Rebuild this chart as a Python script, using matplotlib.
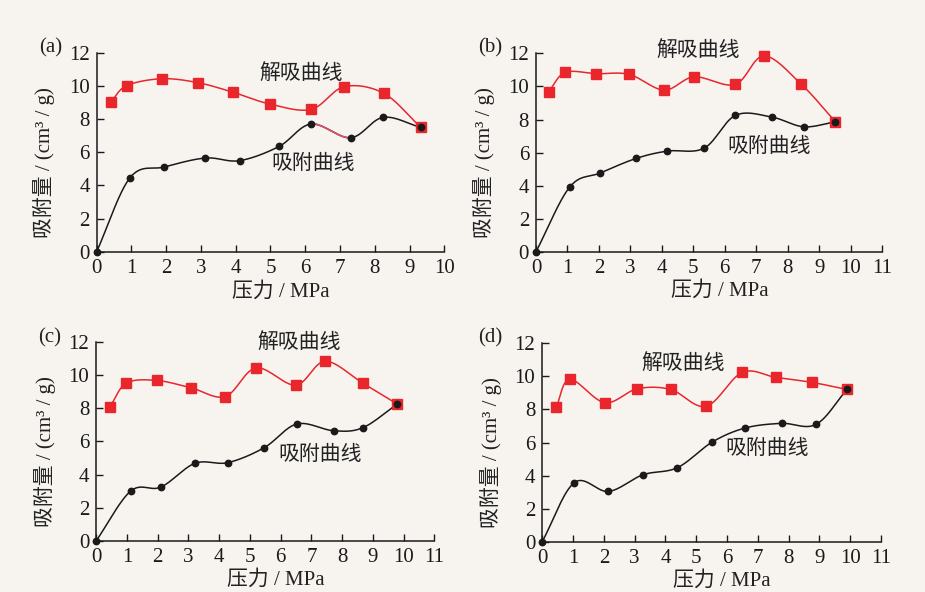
import numpy as np
import matplotlib
matplotlib.use("Agg")
import matplotlib.pyplot as plt

plt.rcParams['font.family'] = ['Liberation Serif', 'Noto Sans CJK SC']
plt.rcParams['axes.unicode_minus'] = False

# ---------------- data ----------------
panel_labels = ["(a)", "(b)", "(c)", "(d)"]
x_max = [10, 11, 11, 11]
y_ticks = [0, 2, 4, 6, 8, 10, 12]

des_label = "解吸曲线"
ads_label = "吸附曲线"
x_label = "压力 / MPa"
y_label = "吸附量 / (cm³ / g)"

# (a)
a_des_x = [0.40, 0.86, 1.88, 2.92, 3.93, 4.99, 6.17, 7.12, 8.26, 9.32]
a_des_y = [9.00, 10.01, 10.43, 10.19, 9.61, 8.90, 8.58, 9.95, 9.55, 7.50]
a_ads_x = [0.0, 0.96, 1.95, 3.13, 4.11, 5.25, 6.17, 7.31, 8.24, 9.32]
a_ads_y = [0.0, 4.46, 5.11, 5.65, 5.49, 6.35, 7.70, 6.87, 8.10, 7.50]
# (b)
b_des_x = [0.40, 0.93, 1.92, 2.96, 4.07, 5.03, 6.33, 7.25, 8.44, 9.52]
b_des_y = [9.68, 10.85, 10.77, 10.73, 9.78, 10.58, 10.12, 11.85, 10.12, 7.86]
b_ads_x = [0.0, 1.07, 2.04, 3.19, 4.18, 5.35, 6.34, 7.49, 8.51, 9.52]
b_ads_y = [0.0, 3.91, 4.76, 5.65, 6.09, 6.27, 8.25, 8.15, 7.56, 7.86]
# (c)
c_des_x = [0.44, 0.98, 1.97, 3.08, 4.20, 5.20, 6.49, 7.45, 8.67, 9.78]
c_des_y = [8.08, 9.53, 9.69, 9.25, 8.72, 10.45, 9.41, 10.85, 9.53, 8.28]
c_ads_x = [0.0, 1.12, 2.10, 3.21, 4.28, 5.47, 6.53, 7.72, 8.67, 9.78]
c_ads_y = [0.0, 3.00, 3.24, 4.68, 4.72, 5.63, 7.06, 6.65, 6.83, 8.24]
# (d)
d_des_x = [0.45, 0.90, 2.03, 3.08, 4.17, 5.32, 6.49, 7.59, 8.75, 9.90]
d_des_y = [8.13, 9.82, 8.41, 9.25, 9.21, 8.19, 10.24, 9.94, 9.64, 9.21]
d_ads_x = [0.0, 1.04, 2.15, 3.27, 4.39, 5.52, 6.59, 7.77, 8.89, 9.90]
d_ads_y = [0.0, 3.57, 3.04, 4.05, 4.48, 6.03, 6.88, 7.16, 7.10, 9.23]

des_x = [a_des_x, b_des_x, c_des_x, d_des_x]
des_y = [a_des_y, b_des_y, c_des_y, d_des_y]
ads_x = [a_ads_x, b_ads_x, c_ads_x, d_ads_x]
ads_y = [a_ads_y, b_ads_y, c_ads_y, d_ads_y]

# ---------------- style ----------------
BG = "#f7f4f0"
RED = "#e8262c"
BLACK = "#1a1a1a"
TXT = "#222222"
FS = 15

axes_rects = [
    [0.1045, 0.5748, 0.3758, 0.3362],
    [0.5795, 0.5748, 0.3740, 0.3350],
    [0.1041, 0.0867, 0.3654, 0.3351],
    [0.5862, 0.0850, 0.3663, 0.3350],
]
des_text_pos = [(5.88, 10.71), (5.14, 12.16), (6.60, 11.96), (4.56, 10.75)]
ads_text_pos = [(6.24, 5.29), (7.42, 6.31), (7.28, 5.17), (7.29, 5.58)]
panel_text_pos = [(0.055, 0.920), (0.530, 0.920), (0.054, 0.430), (0.530, 0.429)]


def smooth(x, y, n=30):
    """Catmull-Rom spline through the given points (parametric)."""
    x = np.asarray(x, float)
    y = np.asarray(y, float)
    P = np.column_stack([x, y])
    P = np.vstack([2 * P[0] - P[1], P, 2 * P[-1] - P[-2]])
    out = []
    t = np.linspace(0, 1, n)[:, None]
    for i in range(1, len(P) - 2):
        p0, p1, p2, p3 = P[i - 1], P[i], P[i + 1], P[i + 2]
        seg = 0.5 * ((2 * p1) + (-p0 + p2) * t +
                     (2 * p0 - 5 * p1 + 4 * p2 - p3) * t ** 2 +
                     (-p0 + 3 * p1 - 3 * p2 + p3) * t ** 3)
        out.append(seg if i == 1 else seg[1:])
    S = np.vstack(out)
    return S[:, 0], S[:, 1]


fig = plt.figure(figsize=(9.25, 5.92), dpi=100)
fig.patch.set_facecolor(BG)

for k in range(4):
    ax = fig.add_axes(axes_rects[k])
    ax.set_facecolor(BG)
    ax.set_xlim(0, x_max[k])
    ax.set_ylim(0, 12)
    ax.set_xticks(range(0, x_max[k] + 1))
    ax.set_yticks(y_ticks)
    for s in ["top", "right"]:
        ax.spines[s].set_visible(False)
    for s in ["left", "bottom"]:
        ax.spines[s].set_linewidth(1.1)
        ax.spines[s].set_color(BLACK)
    ax.tick_params(direction="in", length=5, width=1.0, labelsize=FS,
                   colors=BLACK, pad=5)

    sx, sy = smooth(ads_x[k], ads_y[k])
    ax.plot(sx, sy, color=BLACK, lw=1.1, clip_on=False, zorder=2)
    if k == 0:
        # the segment between the 7th and 8th adsorption points is drawn pinkish
        n = 30
        seg = slice(6 * (n - 1), 7 * (n - 1) + 1)
        ax.plot(sx[seg], sy[seg], color="#e0506a", lw=1.2, zorder=2.5)
    ax.plot(ads_x[k], ads_y[k], "o", color=BLACK, ms=4.6, clip_on=False, zorder=3)

    sx, sy = smooth(des_x[k], des_y[k])
    ax.plot(sx, sy, color=RED, lw=1.1, clip_on=False, zorder=2)
    ax.plot(des_x[k], des_y[k], "s", color=RED, ms=6.8, clip_on=False, zorder=3)
    # last adsorption point sits on top of last desorption square
    ax.plot(ads_x[k][-1:], ads_y[k][-1:], "o", color=BLACK, ms=4.6,
            clip_on=False, zorder=4)

    ax.text(*des_text_pos[k], des_label, fontsize=FS, ha="center",
            va="center", color=TXT)
    ax.text(*ads_text_pos[k], ads_label, fontsize=FS, ha="center",
            va="center", color=TXT)

    ax.set_xlabel(x_label, fontsize=FS, color=TXT, labelpad=0)
    ax.set_ylabel(y_label, fontsize=FS, color=TXT)
    ax.xaxis.set_label_coords(0.53, -0.15)
    ax.yaxis.set_label_coords(-0.12, 0.45)

    fig.text(*panel_text_pos[k], panel_labels[k], fontsize=FS,
             ha="center", va="center", color=TXT)

fig.savefig("out.png", dpi=100, facecolor=BG)
